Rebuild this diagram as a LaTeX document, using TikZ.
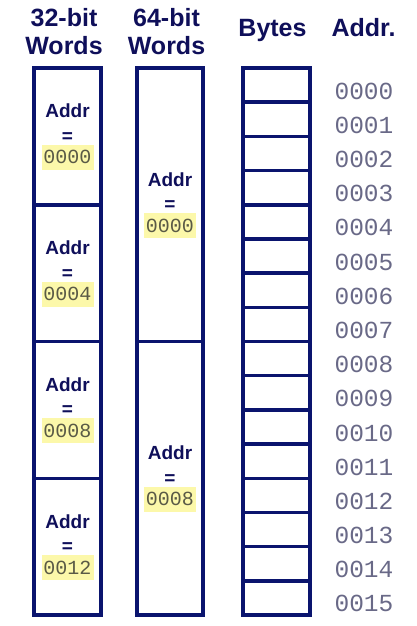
\documentclass[tikz,border=0pt]{standalone}
\usepackage{fontspec}
\setmainfont{Liberation Sans}
\newfontfamily\addrfont{Liberation Mono}
\usetikzlibrary{calc}
\definecolor{memblue}{RGB}{10,20,110}
\definecolor{headnavy}{RGB}{15,15,90}
\definecolor{addrgray}{RGB}{105,105,135}
\definecolor{hiyellow}{RGB}{252,248,170}
\definecolor{digitgray}{RGB}{90,90,70}

\begin{document}
\begin{tikzpicture}[x=1pt, y=-1pt,
    cell/.style={draw=memblue, line width=3.5pt, inner sep=0pt},
    header/.style={text=headnavy, font=\fontsize{25}{28}\selectfont\bfseries, align=center, anchor=base},
    addrtxt/.style={text=headnavy, font=\fontsize{19}{20}\selectfont\bfseries, anchor=base},
    addrval/.style={fill=hiyellow, text=digitgray, font=\addrfont\fontsize{20}{20}\selectfont,
      minimum width=52pt, minimum height=25pt, inner sep=0pt},
    byteaddr/.style={text=addrgray, font=\addrfont\fontsize{24.5}{26}\selectfont}]
  \useasboundingbox (0,0) rectangle (416,626);
  % column headers
  \node[header] (h32) at (64,55) {32-bit\\Words};
  \node[header] (h64) at (166.5,55) {64-bit\\Words};
  \node[header] (hbytes) at (272.5,37) {Bytes};
  \node[header] (haddr) at (363.5,37) {Addr.};
  % 32-bit words
  \foreach \k/\v in {0/0000,1/0004,2/0008,3/0012} {
    \node[cell, minimum width=67pt, minimum height=136.75pt] (w\k) at (67.5,{68+(\k+0.5)*136.75}) {};
    \node[addrtxt] (w\k-lbl) at ($(w\k.center)+(0,-18.5)$) {Addr};
    \node[addrtxt] (w\k-eq) at ($(w\k.center)+(0,6)$) {=};
    \node[addrval] (w\k-val) at ($(w\k.center)+(0,21)$) {\v};
  }
  % 64-bit words
  \foreach \k/\v in {0/0000,1/0008} {
    \node[cell, minimum width=66pt, minimum height=273.5pt] (q\k) at (170,{68+(\k+0.5)*273.5}) {};
    \node[addrtxt] (q\k-lbl) at ($(q\k.center)+(0,-18.5)$) {Addr};
    \node[addrtxt] (q\k-eq) at ($(q\k.center)+(0,6)$) {=};
    \node[addrval] (q\k-val) at ($(q\k.center)+(0,21)$) {\v};
  }
  % bytes and their addresses
  \foreach \k in {0,...,15} {
    \node[cell, minimum width=67pt, minimum height=34.1875pt] (b\k) at (276.5,{68+(\k+0.5)*34.1875}) {};
    \node[byteaddr] (a\k) at ($(b\k.center)+(87.5,6)$) {\ifnum\k<10 000\k\else 00\k\fi};
  }
\end{tikzpicture}
\end{document}
